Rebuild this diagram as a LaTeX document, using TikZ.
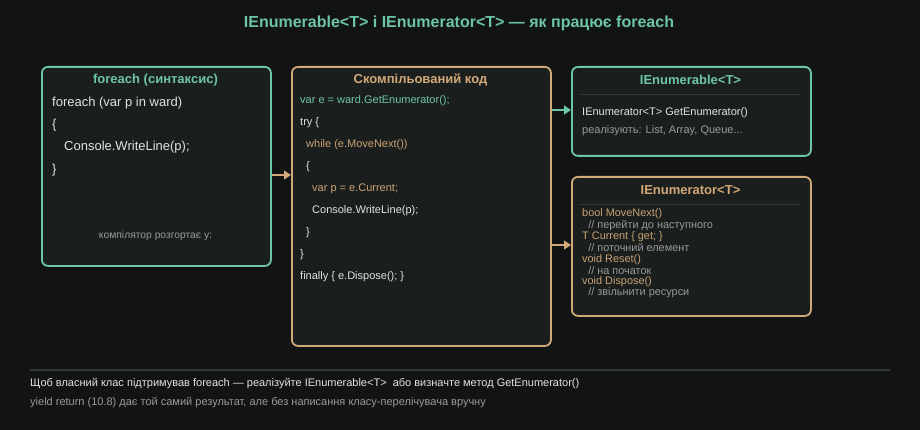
\documentclass[tikz,border=0pt]{standalone}
\usepackage{fontspec}
\setmainfont{Liberation Sans}
\usetikzlibrary{arrows.meta}
\definecolor{bg}{HTML}{121414}
\definecolor{boxfill}{HTML}{1A1F1E}
\definecolor{grn}{HTML}{6DC5A3}
\definecolor{tan}{HTML}{D2A878}
\definecolor{tantxt}{HTML}{C9A174}
\definecolor{wht}{HTML}{E2E2E2}
\definecolor{gry}{HTML}{9A9A9A}
\definecolor{sep}{HTML}{333737}
\tikzset{
  panel/.style={draw=#1, line width=1.8pt, fill=boxfill, rounded corners=6pt, anchor=north west, inner sep=0pt},
  ttl/.style={font=\fontsize{13}{15}\selectfont\bfseries, text=#1},
  code/.style={anchor=west, inner sep=0pt, font=\fontsize{13}{15}\selectfont, text=#1},
  small/.style={anchor=west, inner sep=0pt, font=\fontsize{11}{12}\selectfont, text=#1},
  tiny/.style={anchor=west, inner sep=0pt, font=\fontsize{10.9}{11}\selectfont, text=#1},
  conn/.style={draw=#1, line width=1.5pt, -{Triangle[length=7pt,width=9pt]}},
}
\begin{document}
\begin{tikzpicture}[x=1pt,y=-1pt]
\fill[bg] (0,0) rectangle (920,430);
\useasboundingbox (0,0) rectangle (920,430);

\node[font=\fontsize{16}{18}\selectfont\bfseries, text=grn] (title) at (459,23) {IEnumerable<T> і IEnumerator<T> — як працює foreach};

% Box 1
\node[panel=grn, minimum width=229pt, minimum height=199pt] (b1) at (41,66) {};
\node[ttl=grn] (t1) at (155.5,80) {foreach (синтаксис)};
\node[code=wht] (l11) at (52,103) {foreach (var p in ward)};
\node[code=wht] (l12) at (52,125) {\{};
\node[code=wht] (l13) at (64,147) {Console.WriteLine(p);};
\node[code=wht] (l14) at (52,170) {\}};
\node[font=\fontsize{10.3}{12}\selectfont, text=gry] (n1) at (155.5,236) {компілятор розгортає у:};

% Box 2
\node[panel=tan, minimum width=259pt, minimum height=279pt] (b2) at (291,66) {};
\node[ttl=tan] (t2) at (420.5,80) {Скомпільований код};
\node[small=grn] (l21) at (300,101) {var e = ward.GetEnumerator();};
\node[small=wht] (l22) at (300,123) {try \{};
\node[small=tantxt] (l23) at (306,145) {while (e.MoveNext())};
\node[small=wht] (l24) at (306,167) {\{};
\node[small=tantxt] (l25) at (312,189) {var p = e.Current;};
\node[small=wht] (l26) at (312,211) {Console.WriteLine(p);};
\node[small=wht] (l27) at (306,233) {\}};
\node[small=wht] (l28) at (300,255) {\}};
\node[small=wht] (l29) at (300,277) {finally \{ e.Dispose(); \}};

% Box 3
\node[panel=grn, minimum width=239pt, minimum height=89pt] (b3) at (571,66) {};
\node[ttl=grn] (t3) at (690.5,80) {IEnumerable<T>};
\draw[sep, line width=1pt] (580,95) -- (801,95);
\node[small=wht] (l31) at (582,113) {IEnumerator<T> GetEnumerator()};
\node[small=gry] (l32) at (582,131) {реалізують: List, Array, Queue...};

% Box 4
\node[panel=tan, minimum width=239pt, minimum height=139pt] (b4) at (571,176) {};
\node[ttl=tan] (t4) at (690.5,190) {IEnumerator<T>};
\draw[sep, line width=1pt] (580,205) -- (801,205);
\node[tiny=tantxt] (l41) at (582,214) {bool MoveNext()};
\node[tiny=gry] (l42) at (582,225.3) {\ \ // перейти до наступного};
\node[tiny=tantxt] (l43) at (582,236.6) {T Current \{ get; \}};
\node[tiny=gry] (l44) at (582,247.9) {\ \ // поточний елемент};
\node[tiny=tantxt] (l45) at (582,259.2) {void Reset()};
\node[tiny=gry] (l46) at (582,270.5) {\ \ // на початок};
\node[tiny=tantxt] (l47) at (582,281.8) {void Dispose()};
\node[tiny=gry] (l48) at (582,293.1) {\ \ // звільнити ресурси};

% Connectors
\coordinate (a1) at (0,175);
\coordinate (a2) at (0,110);
\coordinate (a3) at (0,245);
\draw[conn=tan] (b1.east |- a1) -- (b2.west |- a1);
\draw[conn=grn] (b2.east |- a2) -- (b3.west |- a2);
\draw[conn=tan] (b2.east |- a3) -- (b4.west |- a3);

% Footer
\draw[sep, line width=1.2pt] (30,370) -- (890,370);
\node[small=wht] (f1) at (30,384) {Щоб власний клас підтримував foreach — реалізуйте IEnumerable<T>\ \ або визначте метод GetEnumerator()};
\node[small=gry] (f2) at (30,403) {yield return (10.8) дає той самий результат, але без написання класу-перелічувача вручну};
\end{tikzpicture}
\end{document}
